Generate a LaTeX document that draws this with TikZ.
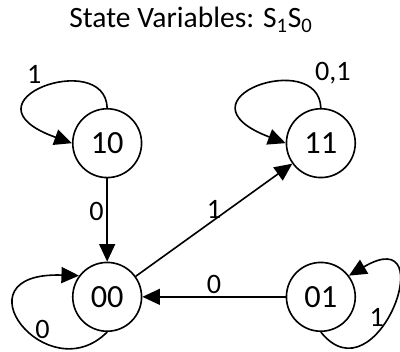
\documentclass[tikz,border=0pt]{standalone}
\usepackage{fontspec}
\setmainfont{Carlito}
\usepackage{tikz}
\usetikzlibrary{arrows.meta,matrix,positioning}
\tikzset{>={Triangle[length=4.4mm,width=4mm]},
         every picture/.append style={line width=1.15pt}}
\tikzstyle{labeled}=[font=\fontsize{20}{22}\selectfont, inner sep=2pt]
\tikzstyle{stnode}=[circle, draw, minimum size=1.72cm, inner sep=0pt,
   font=\fontsize{23}{26}\selectfont]

\begin{document}
\begin{tikzpicture}[x=0.025cm, y=-0.025cm]
   \useasboundingbox (0,0) rectangle (400,352);
   \node (title) at (191,20) {\fontsize{21}{25}\selectfont State Variables: S\textsubscript{1}S\textsubscript{0}};
   \matrix (m) at (214,220) [matrix of nodes, row sep=2.08cm, column sep=3.58cm, nodes={stnode}]
     {
       10 & 11 \\
       00 & 01 \\
     };
   % self loops
   \draw[->] (m-1-1.north) .. controls +(-2,-60) and +(-117,-42) .. node[pos=0.5,above left,labeled] {1} (m-1-1.west);
   \draw[->] (m-1-2.north) .. controls +(-2,-60) and +(-116,-44) .. node[pos=0.15,anchor=south west,labeled] {0,1} (m-1-2.west);
   \draw[->] (m-2-1.south) .. controls +(-60,60) and +(-126,-4) .. node[pos=0.35,above,labeled] {0} (m-2-1.143);
   \draw[->] (m-2-2.south) .. controls +(56,70) and +(95,-56) .. node[pos=0.45,left,labeled] {1} (m-2-2.37);
   % transitions
   \draw[->] (m-1-1) -- node[pos=0.4,left,labeled] {0} (m-2-1);
   \draw[->] (m-2-1) -- node[above,labeled,inner sep=0.5pt] {1} (m-1-2);
   \draw[->] (m-2-2) -- node[above,labeled] {0} (m-2-1);
\end{tikzpicture}
\end{document}
